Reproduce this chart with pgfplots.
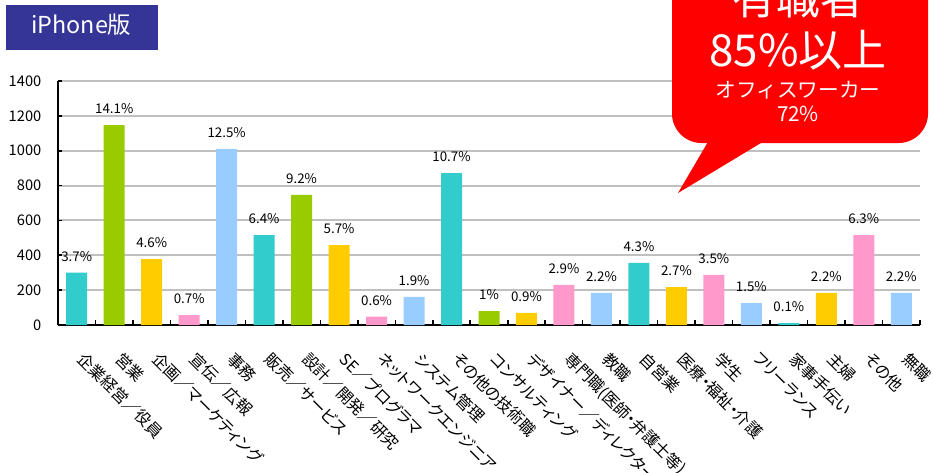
\documentclass[border=0pt]{standalone}
\usepackage{fontspec}
\setmainfont{Noto Sans CJK JP}[RawFeature=+palt]
\newfontfamily\boxfont{Noto Sans CJK JP}
\usepackage{pgfplots}
\pgfplotsset{compat=1.18}

\definecolor{cteal}{HTML}{33CCCC}
\definecolor{cgreen}{HTML}{99CC00}
\definecolor{cgold}{HTML}{FFCC00}
\definecolor{cpink}{HTML}{FF99CC}
\definecolor{cblue}{HTML}{99CCFF}
\definecolor{ctitle}{HTML}{353598}
\definecolor{cgrid}{HTML}{C0C0C0}

\begin{document}
\begin{tikzpicture}
\begin{axis}[
    at={(43.5pt,-243.75pt)},
    anchor=south west,
    scale only axis,
    width=646.5pt,
    height=183pt,
    ybar,
    bar width=15.75pt,
    xmin=0.5, xmax=23.5,
    ymin=0, ymax=1400,
    ytick={0,200,...,1400},
    xtick={1,...,23},
    xticklabels={企業経営／役員, 営業, 企画／マーケティング, 宣伝／広報, 事務,
        販売／サービス, 設計／開発／研究, SE／プログラマ, ネットワークエンジニア,
        システム管理, その他の技術職, コンサルティング, デザイナー／ディレクター,
        専門職(医師・弁護士等), 教職, 自営業, 医療・福祉・介護, 学生,
        フリーランス, 家事手伝い, 主婦, その他, 無職},
    minor xtick={1.5,2.5,...,23.5},
    axis x line*=bottom,
    axis y line*=left,
    axis line style={black, line width=1.6pt},
    ymajorgrids=true,
    grid style={cgrid, line width=1.5pt},
    tick align=inside,
    major tick length=3pt,
    minor tick length=4pt,
    major x tick style={draw=none},
    minor x tick style={draw=black, line width=1.2pt},
    ytick style={black, line width=1.2pt},
    xticklabel shift=19pt,
    xticklabel style={xshift=7pt, rotate=-45, anchor=north west, inner sep=0pt,
        font=\fontsize{12}{13}\selectfont},
    yticklabel style={xshift=-9pt, font=\fontsize{11}{12}\selectfont},
    /pgf/number format/assume math mode=true,
    /pgf/number format/1000 sep={},
    point meta=explicit symbolic,
    nodes near coords,
    every node near coord/.append style={font=\fontsize{10}{12}\selectfont,
        black, yshift=5pt},
    clip=false,
]
% teal
\addplot[fill=cteal, draw=none, bar shift=0pt] coordinates {
    (1,300) [3.7\%]
    (6,516) [6.4\%]
    (11,872) [10.7\%]
    (16,356) [4.3\%]
    (20,11) [0.1\%]
};
% green
\addplot[fill=cgreen, draw=none, bar shift=0pt] coordinates {
    (2,1147) [14.1\%]
    (7,746) [9.2\%]
    (12,80) [1\%]
};
% gold
\addplot[fill=cgold, draw=none, bar shift=0pt] coordinates {
    (3,378) [4.6\%]
    (8,459) [5.7\%]
    (13,69) [0.9\%]
    (17,218) [2.7\%]
    (21,184) [2.2\%]
};
% pink
\addplot[fill=cpink, draw=none, bar shift=0pt] coordinates {
    (4,57) [0.7\%]
    (9,48) [0.6\%]
    (14,230) [2.9\%]
    (18,287) [3.5\%]
    (22,516) [6.3\%]
};
% light blue
\addplot[fill=cblue, draw=none, bar shift=0pt] coordinates {
    (5,1010) [12.5\%]
    (10,161) [1.9\%]
    (15,184) [2.2\%]
    (19,126) [1.5\%]
    (23,184) [2.2\%]
};
\end{axis}

% title box
\fill[ctitle] (4.5pt,-3.75pt) rectangle (118.5pt,-37.5pt);
\node[text=white, font=\boxfont\fontsize{17.5}{17.5}\selectfont] at (61pt,-18.75pt) {iPhone版};

% callout
\fill[red, rounded corners=22pt] (504pt,45pt) rectangle (696pt,-107.25pt);
\fill[red] (534.75pt,-100pt) -- (582.75pt,-100pt) -- (508.5pt,-144.75pt) -- cycle;
\node[text=white, font=\boxfont\fontsize{33}{33}\selectfont] at (598.5pt,2pt) {有職者};
\node[text=white, font=\boxfont\fontsize{33}{33}\selectfont] at (598.5pt,-37.5pt) {85\%以上};
\node[text=white, font=\boxfont\fontsize{15.5}{16}\selectfont] at (598.5pt,-67.5pt) {オフィスワーカー};
\node[text=white, font=\boxfont\fontsize{15.5}{16}\selectfont] at (598.5pt,-85.5pt) {72\%};

\pgfresetboundingbox
\useasboundingbox (0pt,0pt) rectangle (699.75pt,-354pt);
\end{tikzpicture}
\end{document}
